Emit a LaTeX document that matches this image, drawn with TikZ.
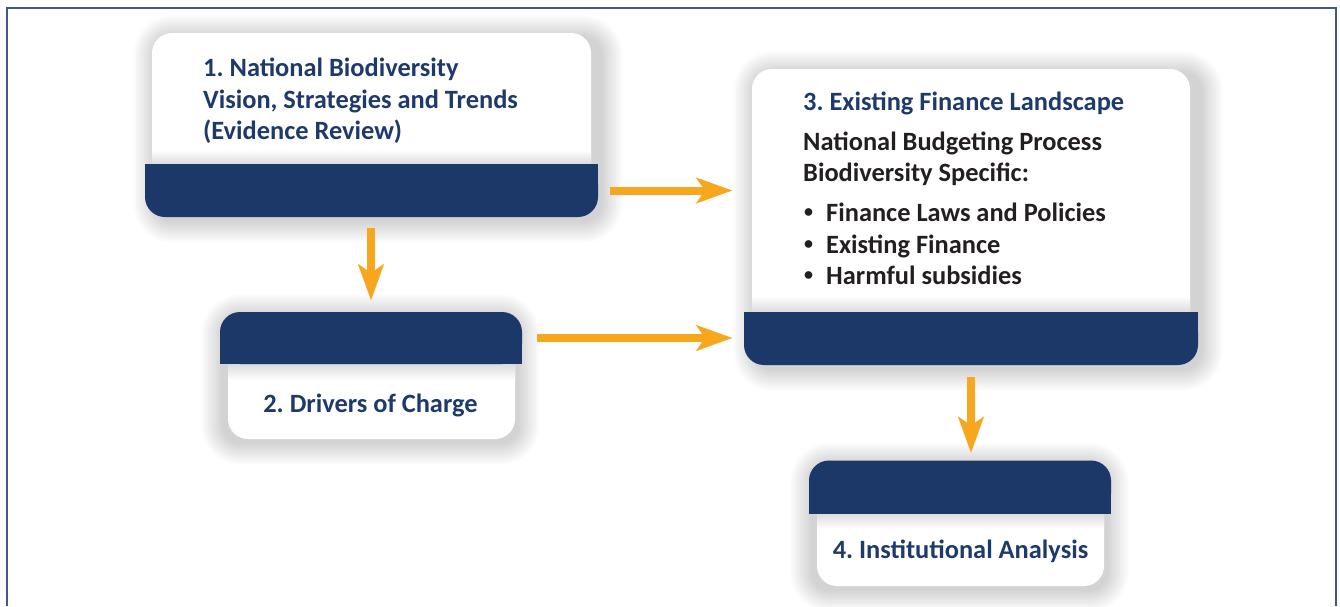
\documentclass[tikz,border=0pt]{standalone}
\usepackage{fontspec}
\setmainfont{Carlito}
\frenchspacing
\usetikzlibrary{arrows.meta}
\definecolor{navy}{HTML}{1B3868}
\definecolor{navytext}{HTML}{1E3A6C}
\definecolor{blacktext}{HTML}{231F20}
\definecolor{orangearr}{HTML}{F6A71D}
\definecolor{frame}{HTML}{40598A}
\pgfdeclarelayer{bg}
\pgfdeclarelayer{paper}
\pgfsetlayers{paper,bg,main}
\newcommand\boxshadow[2]{%
  \foreach \i in {1,...,22}{%
    \pgfmathsetmacro\ax{-\i+3}\pgfmathsetmacro\ay{\i-4}%
    \pgfmathsetmacro\bx{\i+3}\pgfmathsetmacro\by{-\i-4}%
    \pgfmathsetmacro\rr{18+\i}%
    \fill[black,opacity=0.0085,rounded corners=\rr pt]
      ([shift={(\ax pt,\ay pt)}]#1) rectangle ([shift={(\bx pt,\by pt)}]#2);
  }}
\newcommand\smallbullet{\raisebox{3.2pt}{\fontsize{18}{18}\selectfont\textbullet}}
\tikzset{
  whitebox/.style={fill=white,draw=none,rounded corners=20pt,inner sep=0pt,outer sep=0pt},
  bandbox/.style={fill=navy,draw=none,rounded corners=20pt,inner sep=0pt,outer sep=0pt},
  arr/.style={draw=orangearr,line width=8pt,
    -{Stealth[length=36pt,width=26pt,inset=9pt,line width=0.01pt]}},
  txt/.style={font=\fontsize{26.4}{31}\selectfont\bfseries,inner sep=0pt},
  ttl/.style={txt,text=navytext,anchor=base west},
  blk/.style={txt,text=blacktext,anchor=base west},
  ctr/.style={txt,text=navytext,anchor=base},
  undershade/.style={top color=white,bottom color=black!14},
}
\begin{document}
\begin{tikzpicture}[x=1pt,y=-1pt]
\useasboundingbox (0,0) rectangle (1340,606);
\begin{pgfonlayer}{paper}
\fill[white] (0,0) rectangle (1340,606);
\end{pgfonlayer}
\draw[frame,line width=2pt] (6.5,606) -- (6.5,8) -- (1336,8) -- (1336,606);

% Box 1
\node[whitebox,minimum width=439pt,minimum height=157pt] (b1) at (371.5,111.5) {};
\shade[undershade] (b1.west |- 0,150) rectangle (b1.east |- 0,164);
\node[bandbox,minimum width=453pt,minimum height=53pt] (b1band) at (371.5,190.5) {};
\fill[navy] (b1band.north west) rectangle (b1band.east);
\node[ttl] (t1a) at (203,76) {1. National Biodiversity};
\node[ttl] (t1b) at (203,108) {Vision, Strategies and Trends};
\node[ttl] (t1c) at (203,139) {(Evidence Review)};

% Box 2
\node[whitebox,minimum width=287pt,minimum height=101pt] (b2) at (371.5,388.5) {};
\shade[undershade,top color=black!14,bottom color=white] (b2.west |- 0,364) rectangle (b2.east |- 0,380);
\node[bandbox,minimum width=302pt,minimum height=52pt] (b2band) at (371,338) {};
\fill[navy] (b2band.west) rectangle (b2band.south east);
\node[ctr] (t2) at (370.5,412) {2. Drivers of Charge};

% Box 3
\node[whitebox,minimum width=438pt,minimum height=269pt] (b3) at (971,203.5) {};
\shade[undershade] (b3.west |- 0,296) rectangle (b3.east |- 0,312);
\node[bandbox,minimum width=454pt,minimum height=53pt] (b3band) at (971,338.5) {};
\fill[navy] (b3band.north west) rectangle (b3band.east);
\node[ttl] (t3a) at (803,110) {3. Existing Finance Landscape};
\node[blk] (t3b) at (803,150) {National Budgeting Process};
\node[blk] (t3c) at (803,181) {Biodiversity Specific:};
\node[blk] (t3d) at (804,221) {\smallbullet};
\node[blk] (t3e) at (826,221) {Finance Laws and Policies};
\node[blk] (t3f) at (804,253) {\smallbullet};
\node[blk] (t3g) at (826,253) {Existing Finance};
\node[blk] (t3h) at (804,284) {\smallbullet};
\node[blk] (t3i) at (826,284) {Harmful subsidies};

% Box 4
\node[whitebox,minimum width=287pt,minimum height=99pt] (b4) at (960.5,536.5) {};
\shade[undershade,top color=black!14,bottom color=white] (b4.west |- 0,513) rectangle (b4.east |- 0,529);
\node[bandbox,minimum width=302pt,minimum height=53pt] (b4band) at (960,487) {};
\fill[navy] (b4band.west) rectangle (b4band.south east);
\node[ctr] (t4) at (960.5,558) {4. Institutional Analysis};

% Shadows
\begin{pgfonlayer}{bg}
\boxshadow{b1.north west}{b1band.south east}
\boxshadow{b2band.north west}{b2.south east}
\boxshadow{b3.north west}{b3band.south east}
\boxshadow{b4band.north west}{b4.south east}
\end{pgfonlayer}

% Arrows
\coordinate (a13s) at ([xshift=12pt]b1band.east);
\coordinate (a13e) at ([xshift=-12pt]b1band.east -| b3band.west);
\draw[arr] (a13s) -- (a13e);
\coordinate (a12s) at ([yshift=-11pt]b2band.north |- b1band.south);
\coordinate (a12e) at ([yshift=12pt]b2band.north);
\draw[arr] (a12s) -- (a12e);
\coordinate (a23s) at ([xshift=15pt]b2band.east);
\coordinate (a23e) at ([xshift=-12pt]b2band.east -| b3band.west);
\draw[arr] (a23s) -- (a23e);
\coordinate (a34s) at ([yshift=-12pt]b3band.south);
\coordinate (a34e) at ([yshift=8pt]b3band.south |- b4band.north);
\draw[arr] (a34s) -- (a34e);
\end{tikzpicture}
\end{document}
